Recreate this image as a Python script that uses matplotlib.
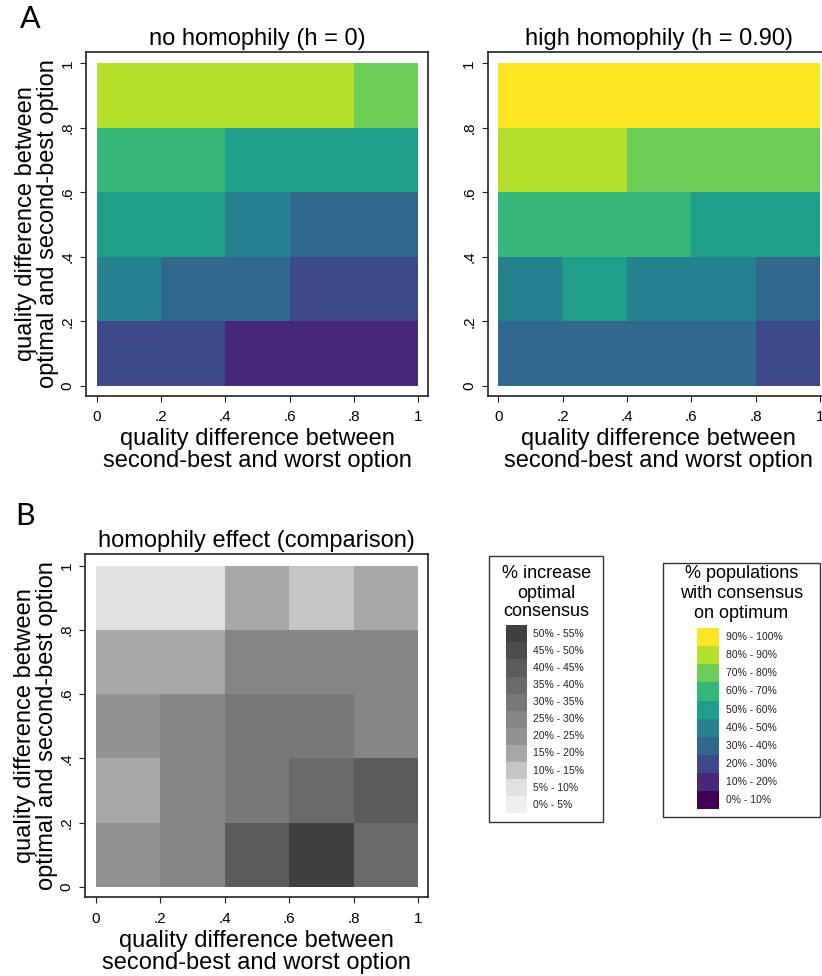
import numpy as np
import matplotlib
matplotlib.use("Agg")
import matplotlib.pyplot as plt
from matplotlib.colors import ListedColormap, BoundaryNorm
from matplotlib.patches import Rectangle

plt.rcParams['font.family'] = ['Liberation Sans', 'DejaVu Sans']

# grid edges (both axes)
edges = [0, .2, .4, .6, .8, 1]
tick_labels = ['0', '.2', '.4', '.6', '.8', '1']

# % populations with consensus on optimum, rows from y=0 (bottom) to y=.8 (top)
no_homophily = [
    [25, 25, 15, 15, 15],
    [45, 35, 35, 25, 25],
    [55, 55, 45, 35, 35],
    [65, 65, 55, 55, 55],
    [85, 85, 85, 85, 75],
]
high_homophily = [
    [35, 35, 35, 35, 25],
    [45, 55, 45, 45, 35],
    [65, 65, 65, 55, 55],
    [85, 85, 75, 75, 75],
    [95, 95, 95, 95, 95],
]
# % increase optimal consensus
increase = [
    [22.5, 27.5, 42.5, 52.5, 37.5],
    [17.5, 27.5, 32.5, 37.5, 42.5],
    [22.5, 27.5, 32.5, 32.5, 27.5],
    [17.5, 17.5, 27.5, 27.5, 27.5],
    [7.5, 7.5, 17.5, 12.5, 17.5],
]

vir_bounds = list(range(0, 101, 10))
vir_colors = ['#440154', '#482878', '#3e4989', '#31688e', '#26828e',
              '#1f9e89', '#35b779', '#6dcd59', '#b4de2c', '#fde725']
vir_labels = ['0% - 10%', '10% - 20%', '20% - 30%', '30% - 40%', '40% - 50%',
              '50% - 60%', '60% - 70%', '70% - 80%', '80% - 90%', '90% - 100%']

gray_bounds = list(range(0, 56, 5))
gray_colors = ['#efefef', '#e1e1e1', '#c5c5c5', '#a8a8a8', '#939393', '#868686',
               '#787878', '#6a6a6a', '#5b5b5b', '#4c4c4c', '#404040']
gray_labels = ['0% - 5%', '5% - 10%', '10% - 15%', '15% - 20%', '20% - 25%',
               '25% - 30%', '30% - 35%', '35% - 40%', '40% - 45%', '45% - 50%',
               '50% - 55%']

W, H = 822, 976
fig = plt.figure(figsize=(W / 100, H / 100), dpi=100)


def px_axes(left, top, right, bottom):
    return fig.add_axes([left / W, 1 - bottom / H, (right - left) / W, (bottom - top) / H])


def heatmap(ax, data, colors, bounds, title, ylabel=True):
    cmap = ListedColormap(colors)
    norm = BoundaryNorm(bounds, cmap.N)
    ax.pcolormesh(edges, edges, np.array(data), cmap=cmap, norm=norm, shading='flat')
    ax.set_xlim(-0.033, 1.030)
    ax.set_ylim(-0.032, 1.035)
    ax.set_xticks(edges)
    ax.set_xticklabels(tick_labels)
    ax.set_yticks(edges)
    ax.set_yticklabels(tick_labels, rotation=90, va='center')
    ax.tick_params(length=4.3, width=0.8, labelsize=11, color='#222222')
    ax.tick_params(axis='x', pad=6)
    ax.tick_params(axis='y', pad=4)
    for s in ax.spines.values():
        s.set_linewidth(1.2)
        s.set_color('#222222')
    ax.set_title(title, fontsize=17, pad=5)
    ax.set_xlabel('quality difference between\nsecond-best and worst option',
                  fontsize=17, labelpad=3, linespacing=1.0)
    if ylabel:
        ax.set_ylabel('quality difference between\noptimal and second-best option',
                      fontsize=17, linespacing=1.0)
        ax.yaxis.set_label_coords(-0.078, 0.5)


ax1 = px_axes(86, 52, 428, 396)
heatmap(ax1, no_homophily, vir_colors, vir_bounds, 'no homophily (h = 0)')

ax2 = px_axes(487.7, 52, 829.7, 396)
heatmap(ax2, high_homophily, vir_colors, vir_bounds, 'high homophily (h = 0.90)',
        ylabel=False)

ax3 = px_axes(85, 554.3, 427.7, 897.3)
heatmap(ax3, increase, gray_colors, gray_bounds, 'homophily effect (comparison)')

# overlay in pixel coordinates for panel letters and legends
ov = fig.add_axes([0, 0, 1, 1], zorder=-1)
ov.set_xlim(0, W)
ov.set_ylim(H, 0)
ov.axis('off')

ov.text(30.5, 19, 'A', fontsize=22, ha='center', va='center', family='Lato')
ov.text(25.5, 516, 'B', fontsize=22, ha='center', va='center', family='Lato')


def legend_box(x0, y0, x1, y1, title_lines, title_y, sw_x0, sw_x1, sw_top, sw_bot,
               colors, labels, lab_x):
    ov.add_patch(Rectangle((x0, y0), x1 - x0, y1 - y0, fill=False,
                           edgecolor='#333333', linewidth=1.0))
    cx = (x0 + x1) / 2
    for t, ty in zip(title_lines, title_y):
        ov.text(cx, ty, t, fontsize=13, ha='center', va='center')
    n = len(colors)
    h = (sw_bot - sw_top) / n
    for i in range(n):
        k = n - 1 - i  # top row is the highest class
        ov.add_patch(Rectangle((sw_x0, sw_top + i * h), sw_x1 - sw_x0, h,
                               facecolor=colors[k], edgecolor='none'))
        ov.text(lab_x, sw_top + (i + 0.5) * h, labels[k], fontsize=7.5,
                ha='left', va='center', color='#222222')


legend_box(489.3, 556, 603.3, 821.7, ['% increase', 'optimal', 'consensus'],
           [574, 593, 612], 506, 526.7, 625.3, 813.3, gray_colors, gray_labels, 533.3)
legend_box(662.7, 563.3, 820, 816.7, ['% populations', 'with consensus', 'on optimum'],
           [574, 594, 614], 696.7, 718.7, 628, 809.3, vir_colors, vir_labels, 726)

fig.savefig('out.png', dpi=100)
